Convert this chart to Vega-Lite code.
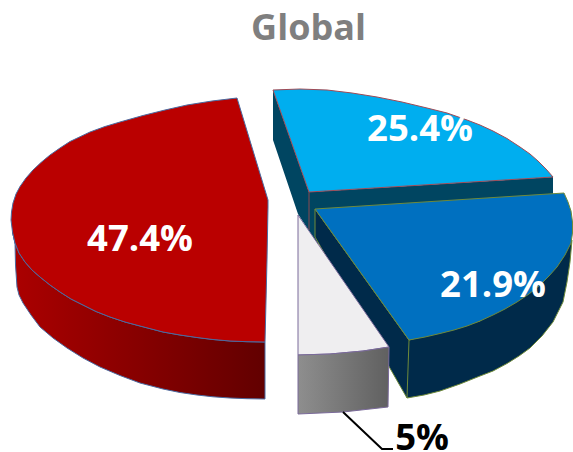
{
"$schema":"https://vega.github.io/schema/vega-lite/v6.json",
"width":573,"height":452,"padding":0,"autosize":{"type":"none"},
"background":"white","view":{"stroke":null},
"title":{"text":"Global","font":"Open Sans","fontSize":36,"fontWeight":"bold","color":"#7f7f7f","anchor":"middle","dx":22,"dy":48,"offset":0},
"datasets":{
"outline":[
{"part":"redSide","x":12.5,"y":232},{"part":"redSide","x":15,"y":243},{"part":"redSide","x":19,"y":253},{"part":"redSide","x":25,"y":262},{"part":"redSide","x":32,"y":270},{"part":"redSide","x":40,"y":277},{"part":"redSide","x":50,"y":285},{"part":"redSide","x":60,"y":292},{"part":"redSide","x":71,"y":299},{"part":"redSide","x":83,"y":305},{"part":"redSide","x":96,"y":311.5},{"part":"redSide","x":110,"y":317},{"part":"redSide","x":125,"y":322},{"part":"redSide","x":140,"y":326},{"part":"redSide","x":163,"y":332},{"part":"redSide","x":180,"y":335},{"part":"redSide","x":197,"y":337.5},{"part":"redSide","x":213,"y":339.5},{"part":"redSide","x":230,"y":341},{"part":"redSide","x":247,"y":341.7},{"part":"redSide","x":265,"y":342},{"part":"redSide","x":265,"y":399},{"part":"redSide","x":247,"y":398.7},{"part":"redSide","x":230,"y":398},{"part":"redSide","x":213,"y":396.8},{"part":"redSide","x":197,"y":395},{"part":"redSide","x":180,"y":392.5},{"part":"redSide","x":163,"y":389},{"part":"redSide","x":140,"y":383},{"part":"redSide","x":120,"y":375.5},{"part":"redSide","x":100,"y":367},{"part":"redSide","x":83,"y":358},{"part":"redSide","x":67,"y":348},{"part":"redSide","x":53,"y":338},{"part":"redSide","x":40,"y":327},{"part":"redSide","x":31,"y":315},{"part":"redSide","x":23,"y":303},{"part":"redSide","x":19,"y":295},{"part":"redSide","x":17,"y":287},{"part":"redSide","x":15.5,"y":265},{"part":"redSide","x":15,"y":243},{"part":"redSide","x":12.5,"y":232},
{"part":"redTop","x":11,"y":220},{"part":"redTop","x":11.5,"y":212},{"part":"redTop","x":13,"y":203},{"part":"redTop","x":16,"y":194},{"part":"redTop","x":20,"y":186.5},{"part":"redTop","x":26,"y":178},{"part":"redTop","x":33,"y":170},{"part":"redTop","x":41,"y":162.5},{"part":"redTop","x":50,"y":155},{"part":"redTop","x":60,"y":148},{"part":"redTop","x":70,"y":141.5},{"part":"redTop","x":90,"y":132},{"part":"redTop","x":105,"y":126.5},{"part":"redTop","x":120,"y":122},{"part":"redTop","x":143,"y":115.5},{"part":"redTop","x":165,"y":110},{"part":"redTop","x":187,"y":105},{"part":"redTop","x":212,"y":101},{"part":"redTop","x":237,"y":98},{"part":"redTop","x":268,"y":200},{"part":"redTop","x":268,"y":207},{"part":"redTop","x":267,"y":260},{"part":"redTop","x":265,"y":342},{"part":"redTop","x":247,"y":341.7},{"part":"redTop","x":230,"y":341},{"part":"redTop","x":213,"y":339.5},{"part":"redTop","x":197,"y":337.5},{"part":"redTop","x":180,"y":335},{"part":"redTop","x":163,"y":332},{"part":"redTop","x":140,"y":326},{"part":"redTop","x":125,"y":322},{"part":"redTop","x":110,"y":317},{"part":"redTop","x":96,"y":311.5},{"part":"redTop","x":83,"y":305},{"part":"redTop","x":71,"y":299},{"part":"redTop","x":60,"y":292},{"part":"redTop","x":50,"y":285},{"part":"redTop","x":40,"y":277},{"part":"redTop","x":32,"y":270},{"part":"redTop","x":25,"y":262},{"part":"redTop","x":19,"y":253},{"part":"redTop","x":15,"y":243},{"part":"redTop","x":12.5,"y":232},{"part":"redTop","x":11,"y":220},
{"part":"cyanSide","x":273,"y":90},{"part":"cyanSide","x":309,"y":192},{"part":"cyanSide","x":553,"y":177},{"part":"cyanSide","x":553,"y":196},{"part":"cyanSide","x":318,"y":212},{"part":"cyanSide","x":318,"y":245},{"part":"cyanSide","x":298,"y":214},{"part":"cyanSide","x":273,"y":140},{"part":"cyanSide","x":273,"y":90},
{"part":"cyanEdge","x":309,"y":192},{"part":"cyanEdge","x":309,"y":230},
{"part":"cyanTop","x":273,"y":90},{"part":"cyanTop","x":300,"y":89},{"part":"cyanTop","x":327,"y":90},{"part":"cyanTop","x":352,"y":93},{"part":"cyanTop","x":377,"y":97},{"part":"cyanTop","x":402,"y":102},{"part":"cyanTop","x":427,"y":108},{"part":"cyanTop","x":447,"y":113},{"part":"cyanTop","x":467,"y":120},{"part":"cyanTop","x":480,"y":125},{"part":"cyanTop","x":493,"y":131},{"part":"cyanTop","x":507,"y":138.5},{"part":"cyanTop","x":520,"y":147},{"part":"cyanTop","x":530,"y":154},{"part":"cyanTop","x":538,"y":161},{"part":"cyanTop","x":546,"y":169},{"part":"cyanTop","x":553,"y":177},{"part":"cyanTop","x":309,"y":192},{"part":"cyanTop","x":273,"y":90},
{"part":"greySide","x":298,"y":355},{"part":"greySide","x":330,"y":354},{"part":"greySide","x":363,"y":351},{"part":"greySide","x":389,"y":347},{"part":"greySide","x":388,"y":407},{"part":"greySide","x":343,"y":412},{"part":"greySide","x":298,"y":414},{"part":"greySide","x":298,"y":355},
{"part":"greyTop","x":298,"y":215},{"part":"greyTop","x":389,"y":347},{"part":"greyTop","x":363,"y":351},{"part":"greyTop","x":330,"y":354},{"part":"greyTop","x":298,"y":355},{"part":"greyTop","x":298,"y":215},
{"part":"blueSide","x":315,"y":209},{"part":"blueSide","x":409,"y":340},{"part":"blueSide","x":480,"y":321},{"part":"blueSide","x":572,"y":240},{"part":"blueSide","x":570,"y":262},{"part":"blueSide","x":567,"y":282},{"part":"blueSide","x":563,"y":302},{"part":"blueSide","x":553,"y":322},{"part":"blueSide","x":542,"y":336},{"part":"blueSide","x":530,"y":348},{"part":"blueSide","x":519,"y":356},{"part":"blueSide","x":507,"y":363.5},{"part":"blueSide","x":493,"y":371},{"part":"blueSide","x":480,"y":376},{"part":"blueSide","x":460,"y":384},{"part":"blueSide","x":440,"y":391},{"part":"blueSide","x":424,"y":395},{"part":"blueSide","x":407,"y":398},{"part":"blueSide","x":315,"y":237},{"part":"blueSide","x":315,"y":209},
{"part":"blueTop","x":315,"y":209},{"part":"blueTop","x":564,"y":193},{"part":"blueTop","x":568,"y":202},{"part":"blueTop","x":571,"y":211},{"part":"blueTop","x":572.5,"y":222},{"part":"blueTop","x":572.5,"y":233},{"part":"blueTop","x":571,"y":243},{"part":"blueTop","x":565,"y":255},{"part":"blueTop","x":557,"y":267},{"part":"blueTop","x":549,"y":276},{"part":"blueTop","x":540,"y":285},{"part":"blueTop","x":529,"y":294},{"part":"blueTop","x":517,"y":302},{"part":"blueTop","x":505,"y":309},{"part":"blueTop","x":493,"y":315},{"part":"blueTop","x":480,"y":321},{"part":"blueTop","x":467,"y":326},{"part":"blueTop","x":454,"y":330},{"part":"blueTop","x":440,"y":333.5},{"part":"blueTop","x":425,"y":337},{"part":"blueTop","x":409,"y":340},{"part":"blueTop","x":315,"y":209},
{"part":"blueEdge","x":409,"y":340},{"part":"blueEdge","x":407,"y":398},
{"part":"leader","x":343,"y":412},{"part":"leader","x":382,"y":449},{"part":"leader","x":393,"y":449}
],
"labels":[
{"label":"47.4%","x":140,"y":240,"c":"w"},
{"label":"25.4%","x":420,"y":130,"c":"w"},
{"label":"21.9%","x":493,"y":286,"c":"w"},
{"label":"5%","x":422,"y":439,"c":"k"}
]},
"data":{"name":"outline"},
"encoding":{
"x":{"field":"x","type":"quantitative","axis":null,"scale":{"domain":[0,573],"nice":false,"zero":false}},
"y":{"field":"y","type":"quantitative","axis":null,"scale":{"domain":[452,0],"nice":false,"zero":false}}
},
"layer":[
{"transform":[{"filter":"datum.part=='redSide'"}],"mark":{"type":"line","stroke":"#4a6aa0","strokeWidth":1,"fill":{"x1":0,"y1":0,"x2":1,"y2":0,"gradient":"linear","stops":[{"offset":0,"color":"#ab0000"},{"offset":1,"color":"#620000"}]}},"encoding":{"order":{"value":null}}},
{"transform":[{"filter":"datum.part=='redTop'"}],"mark":{"type":"line","stroke":"#4a6aa0","strokeWidth":1,"fill":"#ba0000"},"encoding":{"order":{"value":null}}},
{"transform":[{"filter":"datum.part=='cyanSide'"}],"mark":{"type":"line","strokeWidth":0,"fill":"#004561"},"encoding":{"order":{"value":null}}},
{"transform":[{"filter":"datum.part=='cyanEdge'"}],"mark":{"type":"line","stroke":"#8a4a50","strokeWidth":1},"encoding":{"order":{"value":null}}},
{"transform":[{"filter":"datum.part=='cyanTop'"}],"mark":{"type":"line","stroke":"#a04a55","strokeWidth":1,"fill":"#00aeef"},"encoding":{"order":{"value":null}}},
{"transform":[{"filter":"datum.part=='blueSide'"}],"mark":{"type":"line","stroke":"#6f8a3a","strokeWidth":1,"fill":"#002a4a"},"encoding":{"order":{"value":null}}},
{"transform":[{"filter":"datum.part=='greyTop'"}],"mark":{"type":"line","stroke":"#7a6a9a","strokeWidth":1,"fill":"#efeef0"},"encoding":{"order":{"value":null}}},
{"transform":[{"filter":"datum.part=='greySide'"}],"mark":{"type":"line","stroke":"#7a6a9a","strokeWidth":1,"fill":{"x1":0,"y1":0,"x2":1,"y2":0,"gradient":"linear","stops":[{"offset":0,"color":"#8e8e8e"},{"offset":1,"color":"#606060"}]}},"encoding":{"order":{"value":null}}},
{"transform":[{"filter":"datum.part=='blueTop'"}],"mark":{"type":"line","stroke":"#6f8a3a","strokeWidth":1,"fill":"#0070c0"},"encoding":{"order":{"value":null}}},
{"transform":[{"filter":"datum.part=='blueEdge'"}],"mark":{"type":"line","stroke":"#6f8a3a","strokeWidth":1},"encoding":{"order":{"value":null}}},
{"transform":[{"filter":"datum.part=='leader'"}],"mark":{"type":"line","stroke":"#000000","strokeWidth":2},"encoding":{"order":{"value":null}}},
{"data":{"name":"labels"},"mark":{"type":"text","font":"Open Sans","fontWeight":"bold","fontSize":36.5,"align":"center","baseline":"middle"},
"encoding":{"text":{"field":"label"},"color":{"field":"c","type":"nominal","legend":null,"scale":{"domain":["w","k"],"range":["#ffffff","#000000"]}}}}
]
}
